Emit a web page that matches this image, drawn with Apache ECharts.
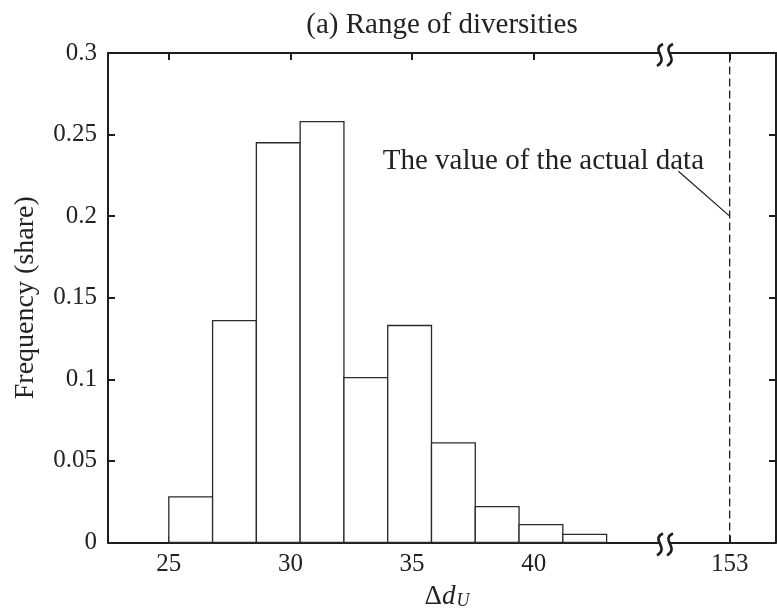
<!DOCTYPE html>
<html>
<head>
<meta charset="utf-8">
<script src="https://cdn.jsdelivr.net/npm/echarts@6/dist/echarts.min.js"></script>
<style>
  html, body { margin: 0; padding: 0; background: #fff; }
  #chart { width: 777px; height: 614px; }
</style>
</head>
<body>
<div id="chart"></div>
<script>
// Histogram of simulated diversity ranges: left edge of each bin, common width, share per bin
const binStarts = [25, 26.8, 28.6, 30.4, 32.2, 34.0, 35.8, 37.6, 39.4, 41.2];
const binWidth = 1.8;
const frequencies = [0.028, 0.136, 0.245, 0.258, 0.101, 0.133, 0.061, 0.022, 0.011, 0.005];

// Observed value, drawn on the far side of the axis break
const actualValue = 153;

// Tick labels
const lowTicks = [25, 30, 35, 40];
const highTicks = [153];

// Axis extents on both sides of the break
const lowRange = [22.5, 45.4];
const highRange = [150.35, 154.9];
const freqRange = [0, 0.3];
const freqStep = 0.05;

const SERIF = "'Liberation Serif', 'DejaVu Serif', serif";
const INK = '#1e1e1e';

const chart = echarts.init(document.getElementById('chart'), null, { renderer: 'canvas' });

function xAxisDef(grid, pos, range, ticks, withLabels) {
  return {
    type: 'value', gridIndex: grid, position: pos,
    min: range[0], max: range[1],
    axisLine: { show: true, onZero: false, lineStyle: { color: INK, width: 2 } },
    axisTick: { show: true, inside: true, length: 7, customValues: ticks, lineStyle: { color: INK, width: 2 } },
    axisLabel: {
      show: withLabels, customValues: ticks, margin: 9,
      fontFamily: SERIF, fontSize: 25, color: '#222'
    },
    splitLine: { show: false }
  };
}

function yAxisDef(grid, pos, withLabels) {
  return {
    type: 'value', gridIndex: grid, position: pos,
    min: freqRange[0], max: freqRange[1], interval: freqStep,
    axisLine: { show: true, onZero: false, lineStyle: { color: INK, width: 2 } },
    axisTick: { show: true, inside: true, length: 7, lineStyle: { color: INK, width: 2 } },
    axisLabel: { show: withLabels, margin: 11, fontFamily: SERIF, fontSize: 25, color: '#222' },
    splitLine: { show: false },
    name: withLabels ? 'Frequency (share)' : '',
    nameLocation: 'middle', nameGap: 68,
    nameTextStyle: { fontFamily: SERIF, fontSize: 28, color: '#222' }
  };
}

chart.setOption({
  animation: false,
  backgroundColor: '#fff',
  grid: [
    { left: 108, top: 53, width: 557, height: 489.5 },
    { left: 665, top: 53, width: 111, height: 489.5 }
  ],
  xAxis: [
    xAxisDef(0, 'bottom', lowRange, lowTicks, true),
    xAxisDef(0, 'top', lowRange, lowTicks, false),
    xAxisDef(1, 'bottom', highRange, highTicks, true),
    xAxisDef(1, 'top', highRange, highTicks, false)
  ],
  yAxis: [
    yAxisDef(0, 'left', true),
    yAxisDef(1, 'right', false)
  ],
  series: [
    {
      type: 'custom',
      xAxisIndex: 0, yAxisIndex: 0,
      data: binStarts.map((s, i) => [s, s + binWidth, frequencies[i]]),
      encode: { x: [0, 1], y: 2 },
      renderItem: function (params, api) {
        const topLeft = api.coord([api.value(0), api.value(2)]);
        const bottomRight = api.coord([api.value(1), 0]);
        return {
          type: 'rect',
          shape: {
            x: topLeft[0], y: topLeft[1],
            width: bottomRight[0] - topLeft[0],
            height: bottomRight[1] - topLeft[1]
          },
          style: { fill: '#fff', stroke: '#2a2a2a', lineWidth: 1.3 }
        };
      }
    },
    {
      type: 'line',
      xAxisIndex: 2, yAxisIndex: 1,
      data: [[actualValue, freqRange[0]], [actualValue, freqRange[1]]],
      symbol: 'none',
      lineStyle: { color: INK, width: 1.3, type: [8, 4] },
      z: 3
    }
  ]
});

// Decorations placed from axis coordinates: break marks, annotation, title, x-axis name
function decorate() {
  const toLow = v => chart.convertToPixel({ seriesIndex: 0 }, v);
  const toHigh = v => chart.convertToPixel({ seriesIndex: 1 }, v);

  const frameTopLeft = toLow([lowRange[0], freqRange[1]]);
  const frameBottom = toLow([lowRange[0], freqRange[0]])[1];
  const frameRight = toHigh([highRange[1], 0])[0];
  const breakX = toLow([lowRange[1], 0])[0];
  const midX = (frameTopLeft[0] + frameRight) / 2;

  const elements = [];

  // Break marks: two wavy strokes across the top and bottom frame lines
  [frameTopLeft[1], frameBottom].forEach(yLine => {
    const top = yLine - 9, bottom = yLine + 13;
    elements.push({
      type: 'rect', z: 100,
      shape: { x: breakX - 5, y: yLine - 2, width: 10, height: 4 },
      style: { fill: '#fff' }
    });
    [-5, 5].forEach(dx => {
      const cx = breakX + dx;
      elements.push({
        type: 'bezierCurve', z: 101,
        shape: {
          x1: cx + 3, y1: top,
          cpx1: cx - 10, cpy1: top + 6,
          cpx2: cx + 10, cpy2: bottom - 8,
          x2: cx - 3, y2: bottom
        },
        style: { stroke: INK, lineWidth: 2.6, fill: null }
      });
    });
  });

  // Annotation pointing at the observed value
  const leaderFrom = toHigh([150.9, 0.2275]);
  const leaderTo = toHigh([actualValue, 0.2]);
  elements.push({
    type: 'line', z: 50,
    shape: { x1: leaderFrom[0], y1: leaderFrom[1], x2: leaderTo[0], y2: leaderTo[1] },
    style: { stroke: INK, lineWidth: 1.2 }
  });
  const textAnchor = toHigh([151.95, 0.2335]);
  elements.push({
    type: 'text', z: 50,
    x: textAnchor[0], y: textAnchor[1],
    style: {
      text: 'The value of the actual data',
      font: '29px ' + SERIF, fill: '#222',
      align: 'right', verticalAlign: 'middle'
    }
  });

  // Title
  elements.push({
    type: 'text', z: 50,
    x: midX, y: 25,
    style: {
      text: '(a) Range of diversities',
      font: '29px ' + SERIF, fill: '#222',
      align: 'center', verticalAlign: 'middle'
    }
  });

  // x-axis name: Δd with a script U subscript
  const nameY = frameBottom + 54;
  elements.push({
    type: 'text', z: 50,
    x: midX + 5, y: nameY,
    style: {
      text: '{n|Δ}{i|d}{s|U}',
      align: 'center', verticalAlign: 'middle',
      rich: {
        n: { fontFamily: SERIF, fontSize: 27, fill: '#222' },
        i: { fontFamily: SERIF, fontSize: 27, fontStyle: 'italic', fill: '#222' },
        s: { fontFamily: SERIF, fontSize: 18, fontStyle: 'italic', fill: '#222', padding: [10, 0, 0, 1] }
      }
    }
  });

  chart.setOption({ graphic: { elements: elements } });
}

decorate();
</script>
</body>
</html>
